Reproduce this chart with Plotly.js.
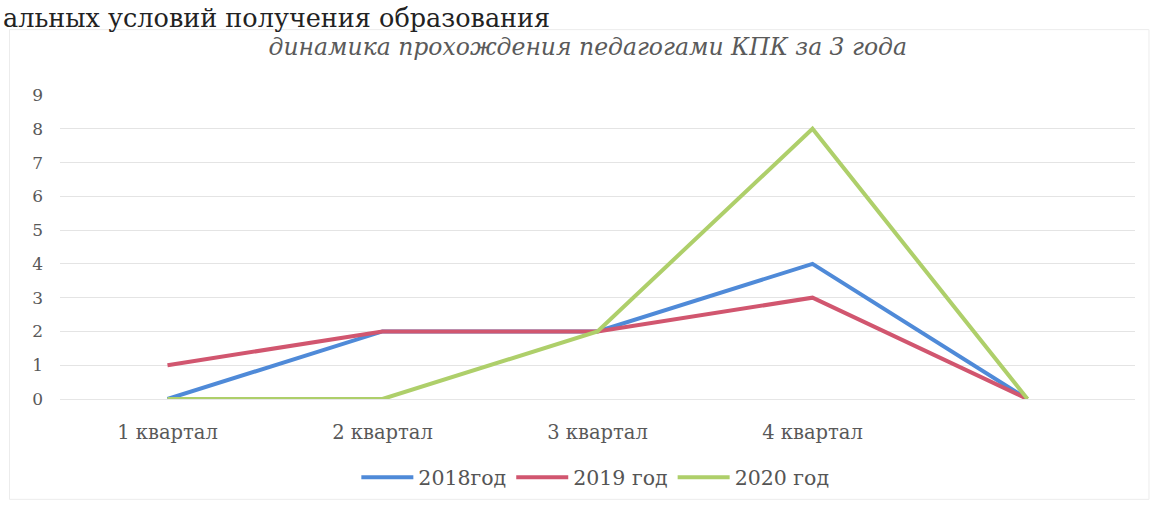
<!DOCTYPE html>
<html>
<head>
<meta charset="utf-8">
<script src="https://cdn.plot.ly/plotly-3.0.1.min.js"></script>
<style>html,body{margin:0;padding:0;background:#fff;}#chart{width:1157px;height:510px;}</style>
</head>
<body>
<div id="chart"></div>
<script>
const categories = ['1 квартал', '2 квартал', '3 квартал', '4 квартал', ''];
const series2018 = [0, 2, 2, 4, 0];
const series2019 = [1, 2, 2, 3, 0];
const series2020 = [0, 0, 2, 8, 0];
const seriesNames = ['2018год', '2019 год', '2020 год'];
const yTicks = [0, 1, 2, 3, 4, 5, 6, 7, 8, 9];
const chartTitle = 'динамика прохождения педагогами КПК за 3 года';
const headerText = 'альных условий получения образования';

const xIdx = categories.map((_, i) => i);
const colors = ['#4f8ad8', '#d1566f', '#aecf6a'];
const font = 'DejaVu Serif';

const traces = [series2018, series2019, series2020].map((ys, k) => ({
  x: xIdx, y: ys, type: 'scatter', mode: 'lines', name: seriesNames[k],
  line: {color: colors[k], width: 4}
}));

const layout = {
  width: 1157, height: 510,
  margin: {l: 60, r: 22, t: 95, b: 109},
  paper_bgcolor: '#ffffff', plot_bgcolor: '#ffffff',
  font: {family: font, color: '#595959', size: 18},
  title: {text: '<i>' + chartTitle + '</i>', x: 0.508, xanchor: 'center', y: 0.908, yanchor: 'middle',
          font: {family: font, size: 23.5, color: '#5a5a5a'}},
  xaxis: {
    range: [-0.5, 4.5], tickvals: xIdx, ticktext: categories,
    showgrid: false, zeroline: false, showline: true, linecolor: '#e6e6e6', linewidth: 1,
    ticks: '', ticklabelstandoff: 16, tickfont: {family: font, size: 19.5, color: '#595959'}
  },
  yaxis: {
    range: [0, 9], tickvals: yTicks, showgrid: true, gridcolor: '#e4e4e4', gridwidth: 1,
    zeroline: false, showline: false, ticks: '', ticklabelstandoff: 16,
    tickfont: {family: font, size: 17, color: '#595959'}
  },
  legend: {orientation: 'h', x: 0.498, xanchor: 'center', y: -0.258, yanchor: 'middle',
           font: {family: font, size: 20.5, color: '#555555'}, itemwidth: 52, tracegroupgap: 0},
  showlegend: true,
  shapes: [{type: 'rect', xref: 'paper', yref: 'paper', x0: -0.047, x1: 1.013, y0: -0.33, y1: 1.215,
            line: {color: '#ececec', width: 1}}],
  annotations: [{text: headerText, xref: 'paper', yref: 'paper', x: -0.055, xanchor: 'left',
                 y: 1.31, yanchor: 'top', showarrow: false,
                 font: {family: font, size: 25.5, color: '#222222'}}]
};

Plotly.newPlot('chart', traces, layout, {displayModeBar: false, staticPlot: true});
</script>
</body>
</html>
